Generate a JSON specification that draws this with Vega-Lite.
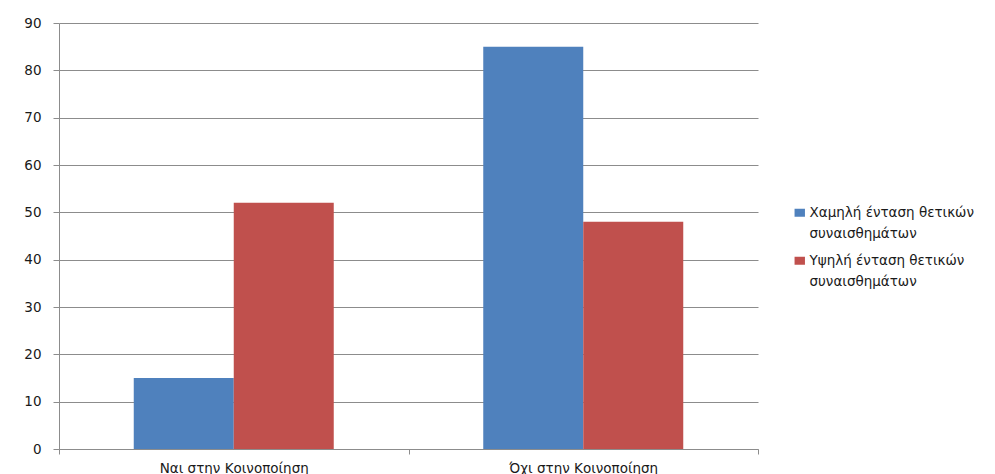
{
  "$schema": "https://vega.github.io/schema/vega-lite/v6.json",
  "autosize": "none",
  "width": 699,
  "height": 426,
  "padding": {"left": 59, "top": 23, "right": 237, "bottom": 25},
  "background": "white",
  "config": {
    "font": "DejaVu Sans",
    "view": {"stroke": null}
  },
  "data": {
    "values": [
      {"category": "Ναι στην Κοινοποίηση", "series": "Χαμηλή ένταση θετικών συναισθημάτων", "value": 15},
      {"category": "Ναι στην Κοινοποίηση", "series": "Υψηλή ένταση θετικών συναισθημάτων", "value": 52},
      {"category": "Όχι στην Κοινοποίηση", "series": "Χαμηλή ένταση θετικών συναισθημάτων", "value": 85},
      {"category": "Όχι στην Κοινοποίηση", "series": "Υψηλή ένταση θετικών συναισθημάτων", "value": 48}
    ]
  },
  "mark": {"type": "bar"},
  "encoding": {
    "x": {
      "field": "category",
      "type": "nominal",
      "sort": null,
      "scale": {"paddingInner": 0, "paddingOuter": 0},
      "axis": {
        "title": null,
        "labelAngle": 0,
        "labelFontSize": 13.5,
        "labelColor": "#1a1a1a",
        "labelPadding": 7,
        "domainColor": "#8c8c8c",
        "tickColor": "#8c8c8c",
        "tickBand": "extent",
        "tickSize": 5,
        "grid": false
      }
    },
    "xOffset": {
      "field": "series",
      "type": "nominal",
      "sort": null,
      "scale": {"paddingInner": 0, "paddingOuter": 0.7475}
    },
    "y": {
      "field": "value",
      "type": "quantitative",
      "scale": {"domain": [0, 90], "nice": false},
      "axis": {
        "title": null,
        "values": [0, 10, 20, 30, 40, 50, 60, 70, 80, 90],
        "labelFontSize": 13.5,
        "labelColor": "#1a1a1a",
        "labelPadding": 12,
        "tickSize": 6,
        "tickColor": "#8c8c8c",
        "domainColor": "#8c8c8c",
        "gridColor": "#8c8c8c",
        "gridWidth": 1
      }
    },
    "color": {
      "field": "series",
      "type": "nominal",
      "sort": null,
      "scale": {"range": ["#4F81BD", "#C0504D"]},
      "legend": {
        "title": null,
        "orient": "none",
        "legendX": 734,
        "legendY": 183,
        "symbolType": "M-1.3,-1H1.3V1H-1.3Z",
        "symbolSize": 64,
        "symbolStrokeWidth": 0,
        "symbolOpacity": 1,
        "labelFontSize": 13.5,
        "labelColor": "#1a1a1a",
        "labelOffset": 3,
        "labelLimit": 300,
        "rowPadding": 12,
        "labelExpr": "[slice(datum.label, 0, indexof(datum.label, ' συναισθ')), 'συναισθημάτων']",
        "encode": {
          "labels": {"update": {"lineHeight": {"value": 21}}}
        }
      }
    }
  }
}
